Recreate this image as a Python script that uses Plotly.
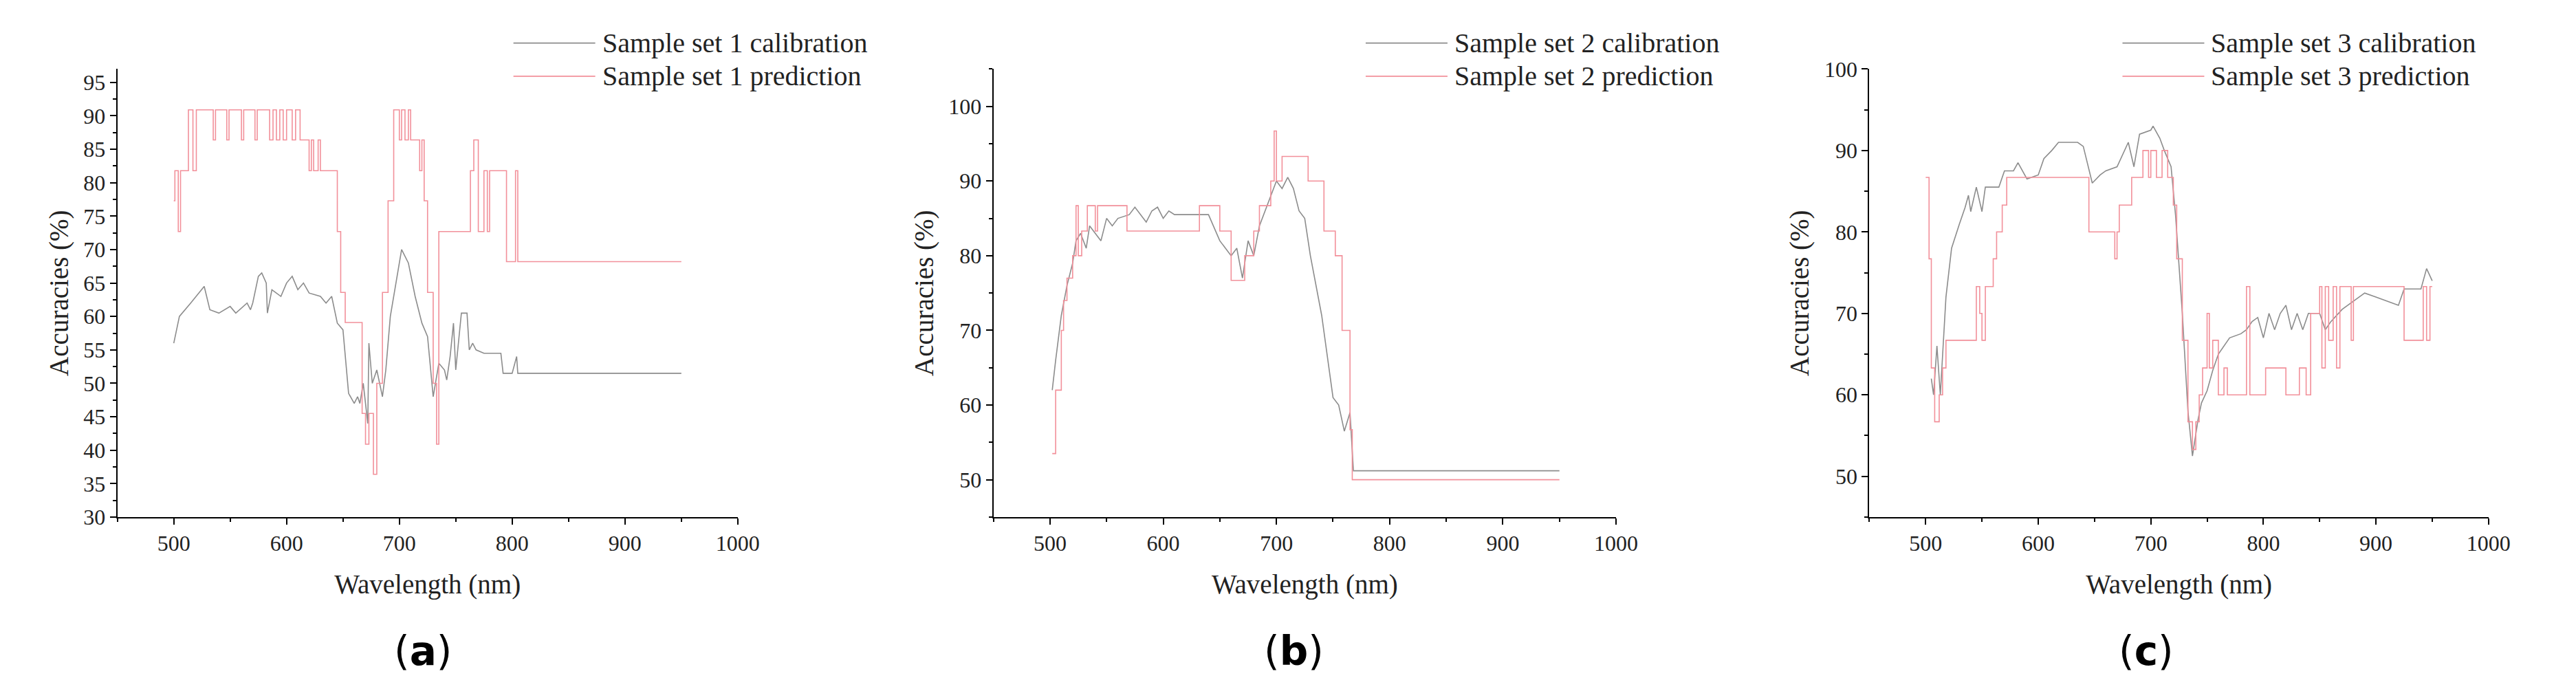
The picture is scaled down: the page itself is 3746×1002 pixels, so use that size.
import plotly.graph_objects as go

# ---- data (wavelength nm, accuracy %) ----
a_cal_x = [500, 505, 515, 527, 532, 540, 550, 555, 565, 568, 570, 575, 578, 582, 583, 587, 595, 600, 605, 610,
           615, 620, 630, 635, 640, 645, 650, 652, 655, 660, 663, 665, 668, 672, 673, 676, 680, 685, 688, 692,
           697, 702, 708, 714, 720, 725, 730, 735, 740, 742, 745, 748, 750, 755, 760, 762, 765, 768, 775, 790,
           792, 800, 804, 805, 950]
a_cal_y = [56, 60, 62, 64.5, 61, 60.5, 61.5, 60.5, 62, 61, 62, 66, 66.5, 65, 60.5, 64, 63, 65, 66, 64,
           65, 63.5, 63, 62, 63, 59, 58, 54, 48.5, 47, 48, 47, 50, 44, 56, 50, 52, 48, 52, 60,
           65, 70, 68, 63, 59, 57, 48, 53, 52, 50.5, 54, 59, 52, 60.5, 60.5, 55, 56, 55, 54.5, 54.5,
           51.5, 51.5, 54, 51.5, 51.5]

a_pre_x = [500, 501, 504, 506, 511, 513, 517, 520, 534, 535, 537, 546, 547, 549, 559, 560, 562, 571, 572, 574,
           585, 588, 591, 594, 597, 600, 605, 608, 612, 620, 622, 624, 628, 630, 640, 645, 648, 652, 665, 667,
           670, 673, 677, 680, 685, 690, 695, 700, 702, 705, 708, 710, 715, 718, 720, 722, 725, 730, 733, 735,
           760, 763, 766, 770, 775, 778, 780, 793, 795, 803, 805, 950]
a_pre_y = [77.3, 81.8, 72.7, 81.8, 81.8, 90.9, 81.8, 90.9, 90.9, 86.4, 90.9, 90.9, 86.4, 90.9, 90.9, 86.4, 90.9, 90.9, 86.4, 90.9,
           86.4, 90.9, 86.4, 90.9, 86.4, 90.9, 86.4, 90.9, 86.4, 81.8, 86.4, 81.8, 86.4, 81.8, 81.8, 72.7, 63.6, 59.1, 59.1, 45.5,
           40.9, 45.5, 36.4, 50, 63.6, 77.3, 90.9, 86.4, 90.9, 86.4, 90.9, 86.4, 86.4, 81.8, 86.4, 77.3, 63.6, 50, 40.9, 72.7,
           72.7, 81.8, 86.4, 72.7, 81.8, 72.7, 81.8, 81.8, 68.2, 81.8, 68.2, 68.2]

b_cal_x = [502, 505, 510, 515, 520, 523, 527, 532, 535, 540, 545, 550, 555, 560, 570, 575, 580, 585, 590, 595,
           600, 605, 610, 640, 650, 660, 665, 670, 675, 680, 685, 690, 695, 700, 705, 710, 715, 720, 725, 730,
           740, 750, 755, 760, 765, 768, 950]
b_cal_y = [62, 66, 72, 76, 79, 82, 83, 81, 84, 83, 82, 85, 84, 85, 85.5, 86.5, 85.5, 84.5, 86, 86.5,
           85, 86, 85.5, 85.5, 82, 80, 81, 77, 82, 80, 84, 86, 88, 90, 89, 90.5, 89, 86, 85, 80,
           72, 61, 60, 56.5, 59, 51.2, 51.2]

b_pre_x = [502, 505, 510, 512, 515, 520, 523, 525, 528, 533, 540, 542, 567, 568, 630, 632, 648, 650, 660, 670,
           672, 680, 685, 695, 698, 700, 705, 725, 728, 740, 742, 750, 752, 758, 765, 767, 950]
b_pre_y = [53.5, 62, 70, 74, 77, 80, 86.7, 80, 83.3, 86.7, 83.3, 86.7, 86.7, 83.3, 83.3, 86.7, 86.7, 83.3, 76.7, 76.7,
           80, 83.3, 86.7, 90, 96.7, 90, 93.3, 93.3, 90, 90, 83.3, 83.3, 80, 70, 56.7, 50, 50]

c_cal_x = [505, 507, 510, 513, 518, 523, 530, 535, 538, 540, 545, 550, 553, 565, 570, 578, 582, 590, 600, 605,
           612, 618, 635, 640, 648, 655, 660, 670, 680, 685, 690, 700, 702, 708, 712, 718, 722, 728, 733, 737,
           742, 745, 750, 755, 760, 765, 770, 780, 785, 790, 795, 800, 805, 810, 815, 820, 825, 830, 835, 840,
           850, 855, 860, 870, 880, 890, 900, 910, 920, 925, 940, 945, 950]
c_cal_y = [62, 60, 66, 60, 72, 78, 81, 83, 84.5, 82.5, 85.5, 82.5, 85.5, 85.5, 87.5, 87.5, 88.5, 86.5, 87, 89,
           90, 91, 91, 90.5, 86, 87, 87.5, 88, 91, 88, 92, 92.5, 93, 91.5, 90, 88, 82, 70, 58, 52.5,
           57, 59, 60.5, 63, 65, 66, 67, 67.5, 68, 69, 69.5, 67, 70, 68, 70, 71, 68, 70, 68, 70,
           70, 68, 69, 70.5, 71.5, 72.5, 72, 71.5, 71, 73, 73, 75.5, 74]

c_pre_x = [500, 503, 505, 508, 512, 515, 518, 543, 545, 548, 550, 553, 558, 560, 563, 568, 572, 642, 645, 665,
           668, 670, 672, 680, 683, 690, 693, 698, 700, 705, 710, 715, 720, 723, 728, 733, 737, 740, 743, 746,
           750, 752, 755, 760, 765, 768, 785, 788, 802, 818, 820, 832, 838, 842, 850, 852, 855, 858, 862, 865,
           868, 878, 880, 922, 925, 942, 945, 948, 950]
c_pre_y = [86.7, 76.7, 63.3, 56.7, 60, 63.3, 66.7, 66.7, 73.3, 70, 66.7, 73.3, 73.3, 76.7, 80, 83.3, 86.7, 86.7, 80, 80,
           76.7, 80, 83.3, 83.3, 86.7, 86.7, 90, 86.7, 90, 86.7, 90, 86.7, 83.3, 76.7, 66.7, 56.7, 53.3, 56.7, 60, 63.3,
           70, 63.3, 66.7, 60, 63.3, 60, 73.3, 60, 63.3, 63.3, 60, 63.3, 60, 70, 73.3, 63.3, 73.3, 66.7, 73.3, 63.3,
           73.3, 66.7, 73.3, 73.3, 66.7, 73.3, 66.7, 73.3, 73.3]

GRAY = "#8c8c8c"
RED = "#f2909a"
FONT = "Liberation Serif"

panels = [
    dict(cx=a_cal_x, cy=a_cal_y, px=a_pre_x, py=a_pre_y, dom=[0.0438, 0.2867], yr=[30, 97],
         dt=5, minor=2.5, set="1", leg_x=745, label="a", lab_x=612),
    dict(cx=b_cal_x, cy=b_cal_y, px=b_pre_x, py=b_pre_y, dom=[0.3868, 0.6306], yr=[45, 105],
         dt=10, minor=5, set="2", leg_x=1995, label="b", lab_x=1890),
    dict(cx=c_cal_x, cy=c_cal_y, px=c_pre_x, py=c_pre_y, dom=[0.7298, 0.9722], yr=[45, 100],
         dt=10, minor=5, set="3", leg_x=3105, label="c", lab_x=3140),
]

W, H = 3746, 1002
fig = go.Figure()
annotations = []
shapes = []
for i, p in enumerate(panels):
    n = "" if i == 0 else str(i + 1)
    fig.add_trace(go.Scatter(x=p["cx"], y=p["cy"], mode="lines", line=dict(color=GRAY, width=1.6),
                             xaxis="x" + n, yaxis="y" + n, showlegend=False))
    fig.add_trace(go.Scatter(x=p["px"], y=p["py"], mode="lines", line=dict(color=RED, width=1.6, shape="hv"),
                             xaxis="x" + n, yaxis="y" + n, showlegend=False))
    axis_common = dict(showline=True, linecolor="black", linewidth=2, ticks="outside", ticklen=9,
                       tickwidth=2, tickcolor="black", showgrid=False, zeroline=False,
                       tickfont=dict(family=FONT, size=32, color="#222"),
                       minor=dict(ticks="outside", ticklen=5, tickwidth=2, tickcolor="black", showgrid=False))
    fig.update_layout({
        "xaxis" + n: dict(axis_common, domain=p["dom"], range=[450, 1000], dtick=100, tick0=0,
                          minor=dict(axis_common["minor"], dtick=50),
                          title=dict(text="Wavelength (nm)", font=dict(family=FONT, size=39, color="#222"), standoff=28),
                          anchor="y" + n),
        "yaxis" + n: dict(axis_common, domain=[0.2485, 0.923], range=p["yr"], dtick=p["dt"], tick0=0,
                          minor=dict(axis_common["minor"], dtick=p["minor"]),
                          title=dict(text="Accuracies (%)", font=dict(family=FONT, size=39, color="#222"), standoff=10),
                          anchor="x" + n),
    })
    # legend drawn as line samples + text
    for k, (txt, col) in enumerate([("Sample set %s calibration" % p["set"], GRAY),
                                     ("Sample set %s prediction" % p["set"], RED)]):
        yy = 1 - (38 + 50 * k) / H
        shapes.append(dict(type="line", xref="paper", yref="paper", x0=p["leg_x"] / W, x1=(p["leg_x"] + 120) / W,
                           y0=yy, y1=yy, line=dict(color=col, width=1.6)))
        annotations.append(dict(text=txt, xref="paper", yref="paper", x=(p["leg_x"] + 128) / W, y=yy,
                                xanchor="left", yanchor="middle", showarrow=False,
                                font=dict(family=FONT, size=40, color="#222")))
    annotations.append(dict(text="(<b>%s</b>)" % p["label"], xref="paper", yref="paper", x=p["lab_x"] / W,
                            y=1 - 955 / H, xanchor="center", yanchor="middle", showarrow=False,
                            font=dict(family="DejaVu Sans", size=58, color="black")))

fig.update_layout(width=W, height=H, margin=dict(l=0, r=0, t=0, b=0), plot_bgcolor="white",
                  paper_bgcolor="white", annotations=annotations, shapes=shapes)
fig.write_html("out.html")
